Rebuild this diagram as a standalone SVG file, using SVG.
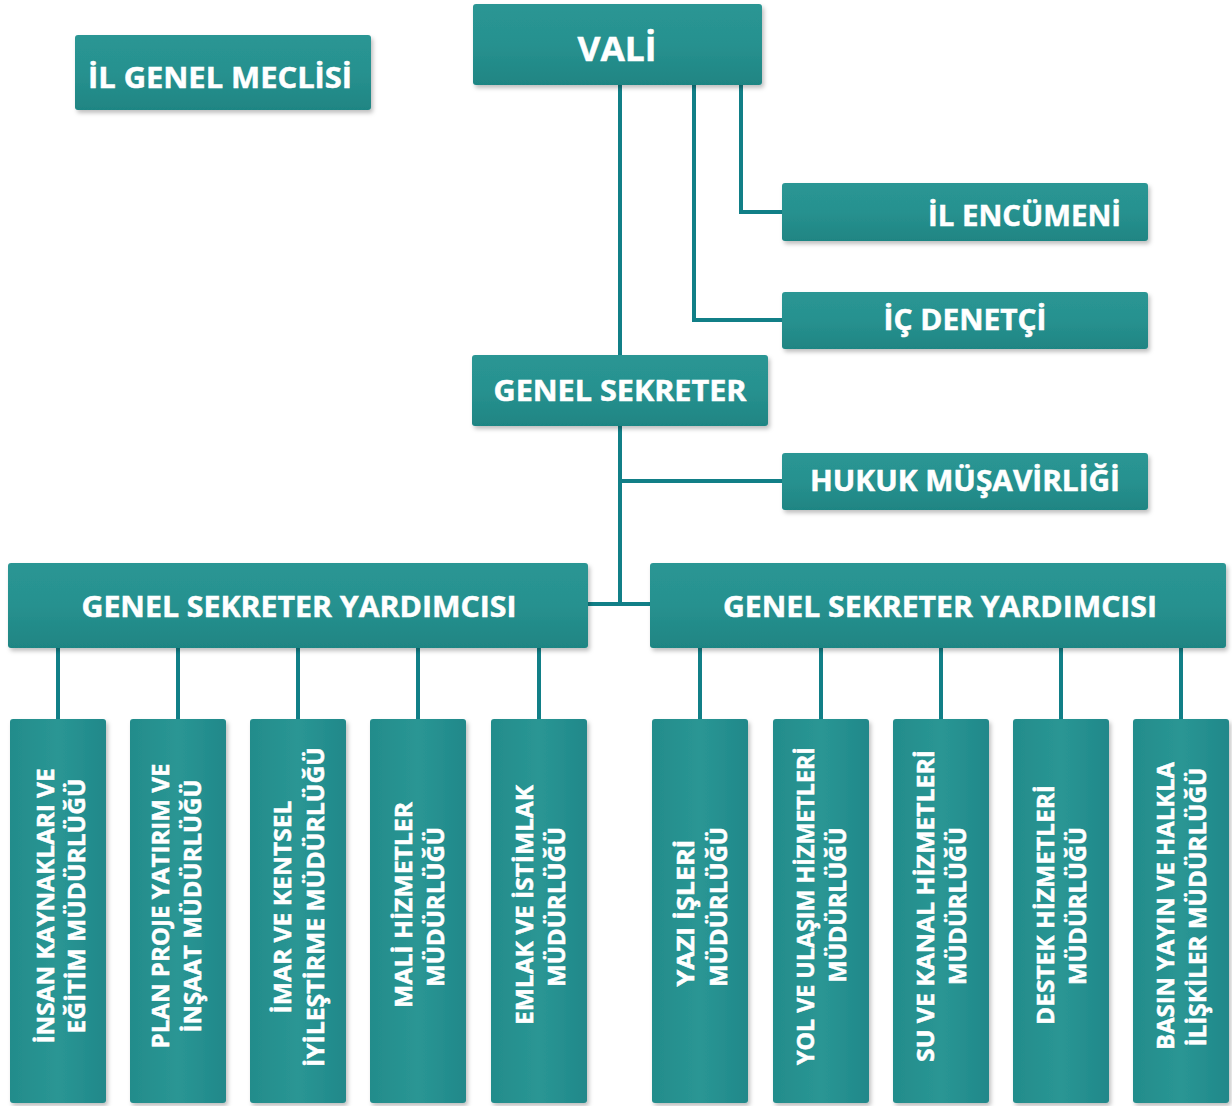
<svg xmlns="http://www.w3.org/2000/svg" width="1232" height="1106" viewBox="0 0 1232 1106">
<defs>
  <linearGradient id="boxg" x1="0" y1="0" x2="0" y2="1">
    <stop offset="0" stop-color="#2a9694"/>
    <stop offset="0.5" stop-color="#27918f"/>
    <stop offset="1" stop-color="#1f8583"/>
  </linearGradient>
  <linearGradient id="boxv" x1="0" y1="0" x2="1" y2="0">
    <stop offset="0" stop-color="#238c8b"/>
    <stop offset="0.5" stop-color="#2a9694"/>
    <stop offset="1" stop-color="#20888a"/>
  </linearGradient>
  <filter id="sh" x="-10%" y="-10%" width="130%" height="130%">
    <feDropShadow dx="2" dy="3" stdDeviation="2" flood-color="#000" flood-opacity="0.25"/>
  </filter>
</defs>
<style>
  .box { fill: url(#boxg); filter: url(#sh); }
  .vbox { fill: url(#boxv); filter: url(#sh); }
  .t { font-family: "Open Sans", "Liberation Sans", sans-serif; font-weight: 700; fill: #ffffff; stroke: #ffffff; stroke-width: 0.5; }
  .h { font-size: 29px; text-anchor: middle; }
  .v { font-size: 23px; text-anchor: middle; }
  .con { fill: none; stroke: #117f87; stroke-width: 4; }
</style>
<rect width="1232" height="1106" fill="#ffffff"/>

<g id="connectors">
  <path class="con" d="M620 84 V356"/>
  <path class="con" d="M620 425 V606"/>
  <path class="con" d="M741 84 V212 H782"/>
  <path class="con" d="M694 84 V320 H782"/>
  <path class="con" d="M620 481 H782"/>
  <path class="con" d="M587 604 H651"/>
  <path class="con" d="M58 647 V720 M178 647 V720 M298 647 V720 M418 647 V720 M539 647 V720"/>
  <path class="con" d="M700 647 V720 M821 647 V720 M941 647 V720 M1061 647 V720 M1181 647 V720"/>
</g>

<g id="vali">
  <rect class="box" x="473" y="4" width="289" height="81" rx="3"/>
  <text class="t h" x="617" y="61" style="font-size:34px" textLength="79" lengthAdjust="spacingAndGlyphs">VALİ</text>
</g>

<g id="il-genel-meclisi">
  <rect class="box" x="75" y="35" width="296" height="75" rx="3"/>
  <text class="t h" x="220" y="88" textLength="264" lengthAdjust="spacingAndGlyphs">İL GENEL MECLİSİ</text>
</g>

<g id="il-encumeni">
  <rect class="box" x="782" y="183" width="366" height="58" rx="3"/>
  <text class="t" x="928" y="226" style="font-size:28px" textLength="193" lengthAdjust="spacingAndGlyphs">İL ENCÜMENİ</text>
</g>

<g id="ic-denetci">
  <rect class="box" x="782" y="292" width="366" height="57" rx="3"/>
  <text class="t h" x="965" y="330" style="font-size:28px" textLength="163" lengthAdjust="spacingAndGlyphs">İÇ DENETÇİ</text>
</g>

<g id="genel-sekreter">
  <rect class="box" x="472" y="355" width="296" height="71" rx="3"/>
  <text class="t h" x="620" y="401" style="font-size:28px" textLength="253" lengthAdjust="spacingAndGlyphs">GENEL SEKRETER</text>
</g>

<g id="hukuk">
  <rect class="box" x="782" y="453" width="366" height="57" rx="3"/>
  <text class="t h" x="965" y="491" style="font-size:28px" textLength="310" lengthAdjust="spacingAndGlyphs">HUKUK MÜŞAVİRLİĞİ</text>
</g>

<g id="gsy-left">
  <rect class="box" x="8" y="563" width="580" height="85" rx="3"/>
  <text class="t h" x="299" y="617" textLength="435" lengthAdjust="spacingAndGlyphs">GENEL SEKRETER YARDIMCISI</text>
</g>

<g id="gsy-right">
  <rect class="box" x="650" y="563" width="576" height="85" rx="3"/>
  <text class="t h" x="940" y="617" textLength="434" lengthAdjust="spacingAndGlyphs">GENEL SEKRETER YARDIMCISI</text>
</g>

<g id="insan-kaynaklari">
  <rect class="vbox" x="10" y="719" width="96" height="384" rx="3"/>
  <text class="t v" transform="translate(54 906) rotate(-90)" textLength="275" lengthAdjust="spacingAndGlyphs">İNSAN KAYNAKLARI VE</text>
  <text class="t v" transform="translate(85 906) rotate(-90)" textLength="255" lengthAdjust="spacingAndGlyphs">EĞİTİM MÜDÜRLÜĞÜ</text>
</g>

<g id="plan-proje">
  <rect class="vbox" x="130" y="719" width="96" height="384" rx="3"/>
  <text class="t v" transform="translate(169 906) rotate(-90)" textLength="285" lengthAdjust="spacingAndGlyphs">PLAN PROJE YATIRIM VE</text>
  <text class="t v" transform="translate(201 906) rotate(-90)" textLength="253" lengthAdjust="spacingAndGlyphs">İNŞAAT MÜDÜRLÜĞÜ</text>
</g>

<g id="imar">
  <rect class="vbox" x="250" y="719" width="96" height="384" rx="3"/>
  <text class="t v" transform="translate(291 907) rotate(-90)" textLength="213" lengthAdjust="spacingAndGlyphs">İMAR VE KENTSEL</text>
  <text class="t v" transform="translate(324 907) rotate(-90)" textLength="320" lengthAdjust="spacingAndGlyphs">İYİLEŞTİRME MÜDÜRLÜĞÜ</text>
</g>

<g id="mali">
  <rect class="vbox" x="370" y="719" width="96" height="384" rx="3"/>
  <text class="t v" transform="translate(412 905) rotate(-90)" textLength="206" lengthAdjust="spacingAndGlyphs">MALİ HİZMETLER</text>
  <text class="t v" transform="translate(444 907) rotate(-90)" textLength="160" lengthAdjust="spacingAndGlyphs">MÜDÜRLÜĞÜ</text>
</g>

<g id="emlak">
  <rect class="vbox" x="491" y="719" width="96" height="384" rx="3"/>
  <text class="t v" transform="translate(533 905) rotate(-90)" textLength="240" lengthAdjust="spacingAndGlyphs">EMLAK VE İSTİMLAK</text>
  <text class="t v" transform="translate(565 907) rotate(-90)" textLength="160" lengthAdjust="spacingAndGlyphs">MÜDÜRLÜĞÜ</text>
</g>

<g id="yazi">
  <rect class="vbox" x="652" y="719" width="96" height="384" rx="3"/>
  <text class="t v" transform="translate(694 913) rotate(-90)" textLength="147" lengthAdjust="spacingAndGlyphs">YAZI İŞLERİ</text>
  <text class="t v" transform="translate(727 907) rotate(-90)" textLength="160" lengthAdjust="spacingAndGlyphs">MÜDÜRLÜĞÜ</text>
</g>

<g id="yol">
  <rect class="vbox" x="773" y="719" width="96" height="384" rx="3"/>
  <text class="t v" transform="translate(814 906) rotate(-90)" textLength="318" lengthAdjust="spacingAndGlyphs">YOL VE ULAŞIM HİZMETLERİ</text>
  <text class="t v" transform="translate(846 905) rotate(-90)" textLength="155" lengthAdjust="spacingAndGlyphs">MÜDÜRLÜĞÜ</text>
</g>

<g id="su">
  <rect class="vbox" x="893" y="719" width="96" height="384" rx="3"/>
  <text class="t v" transform="translate(934 906) rotate(-90)" textLength="312" lengthAdjust="spacingAndGlyphs">SU VE KANAL HİZMETLERİ</text>
  <text class="t v" transform="translate(966 906) rotate(-90)" textLength="158" lengthAdjust="spacingAndGlyphs">MÜDÜRLÜĞÜ</text>
</g>

<g id="destek">
  <rect class="vbox" x="1013" y="719" width="96" height="384" rx="3"/>
  <text class="t v" transform="translate(1054 905) rotate(-90)" textLength="240" lengthAdjust="spacingAndGlyphs">DESTEK HİZMETLERİ</text>
  <text class="t v" transform="translate(1086 906) rotate(-90)" textLength="158" lengthAdjust="spacingAndGlyphs">MÜDÜRLÜĞÜ</text>
</g>

<g id="basin">
  <rect class="vbox" x="1133" y="719" width="96" height="384" rx="3"/>
  <text class="t v" transform="translate(1174 906) rotate(-90)" textLength="288" lengthAdjust="spacingAndGlyphs">BASIN YAYIN VE HALKLA</text>
  <text class="t v" transform="translate(1206 907) rotate(-90)" textLength="279" lengthAdjust="spacingAndGlyphs">İLİŞKİLER MÜDÜRLÜĞÜ</text>
</g>
</svg>
